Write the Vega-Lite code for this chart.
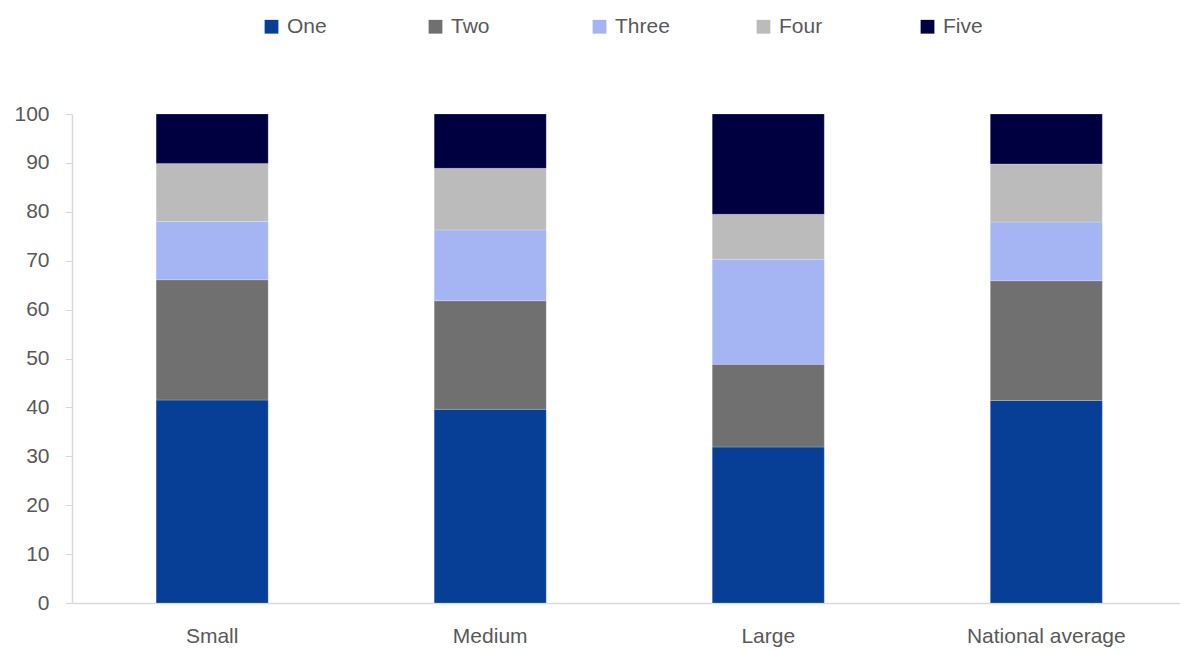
{
  "$schema": "https://vega.github.io/schema/vega-lite/v6.json",
  "width": 1108,
  "height": 489,
  "autosize": {"type": "none"},
  "padding": {"left": 72, "top": 114, "right": 0, "bottom": 46},
  "background": "white",
  "config": {"view": {"stroke": null}, "font": "Liberation Sans"},
  "data": {
    "values": [
      {"cat": "Small", "band": "One", "order": 1, "value": 41.5},
      {"cat": "Small", "band": "Two", "order": 2, "value": 24.6},
      {"cat": "Small", "band": "Three", "order": 3, "value": 11.9},
      {"cat": "Small", "band": "Four", "order": 4, "value": 11.9},
      {"cat": "Small", "band": "Five", "order": 5, "value": 10.1},
      {"cat": "Medium", "band": "One", "order": 1, "value": 39.6},
      {"cat": "Medium", "band": "Two", "order": 2, "value": 22.2},
      {"cat": "Medium", "band": "Three", "order": 3, "value": 14.5},
      {"cat": "Medium", "band": "Four", "order": 4, "value": 12.6},
      {"cat": "Medium", "band": "Five", "order": 5, "value": 11.1},
      {"cat": "Large", "band": "One", "order": 1, "value": 31.9},
      {"cat": "Large", "band": "Two", "order": 2, "value": 16.9},
      {"cat": "Large", "band": "Three", "order": 3, "value": 21.5},
      {"cat": "Large", "band": "Four", "order": 4, "value": 9.2},
      {"cat": "Large", "band": "Five", "order": 5, "value": 20.5},
      {"cat": "National average", "band": "One", "order": 1, "value": 41.4},
      {"cat": "National average", "band": "Two", "order": 2, "value": 24.5},
      {"cat": "National average", "band": "Three", "order": 3, "value": 12.0},
      {"cat": "National average", "band": "Four", "order": 4, "value": 11.9},
      {"cat": "National average", "band": "Five", "order": 5, "value": 10.2}
    ]
  },
  "mark": {"type": "bar", "stroke": "white", "strokeWidth": 0.4, "strokeOpacity": 0.5},
  "encoding": {
    "x": {
      "field": "cat",
      "type": "nominal",
      "sort": ["Small", "Medium", "Large", "National average"],
      "scale": {"paddingInner": 0.597, "paddingOuter": 0.291, "align": 0.52},
      "axis": {
        "title": null,
        "labelAngle": 0,
        "labelFontSize": 21,
        "labelColor": "#595959",
        "labelPadding": 22,
        "ticks": false,
        "domainColor": "#D9D9D9",
        "domainWidth": 1.5,
        "grid": false
      }
    },
    "y": {
      "field": "value",
      "type": "quantitative",
      "stack": "zero",
      "scale": {"domain": [0, 100], "nice": false},
      "axis": {
        "title": null,
        "values": [0, 10, 20, 30, 40, 50, 60, 70, 80, 90, 100],
        "labelFontSize": 21,
        "labelColor": "#595959",
        "labelPadding": 16,
        "tickSize": 7,
        "tickColor": "#D9D9D9",
        "domainColor": "#D9D9D9",
        "domainWidth": 1.5,
        "grid": false
      }
    },
    "color": {
      "field": "band",
      "type": "nominal",
      "sort": ["One", "Two", "Three", "Four", "Five"],
      "scale": {
        "domain": ["One", "Two", "Three", "Four", "Five"],
        "range": ["#073E96", "#707070", "#A5B4F3", "#BBBBBB", "#000040"]
      },
      "legend": {
        "title": null,
        "orient": "none",
        "direction": "horizontal",
        "legendX": 189,
        "legendY": -98,
        "columns": 5,
        "gridAlign": "all",
        "columnPadding": 83,
        "symbolType": "square",
        "symbolSize": 190,
        "symbolStrokeWidth": 0,
        "labelFontSize": 21,
        "labelColor": "#595959",
        "labelOffset": 5
      }
    },
    "order": {"field": "order", "type": "quantitative"}
  }
}
